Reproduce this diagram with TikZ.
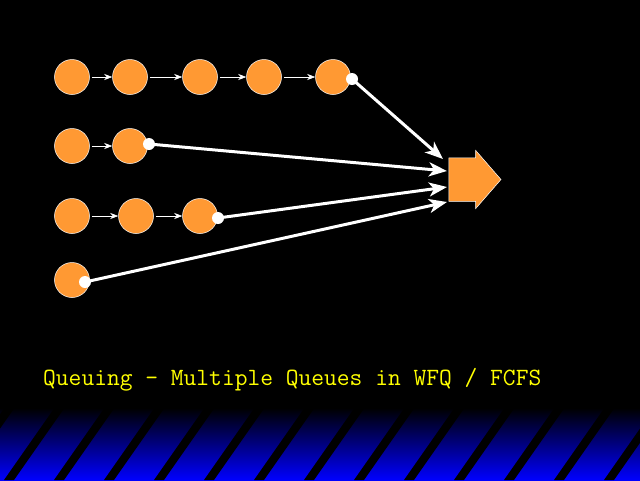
\documentclass[tikz,border=0pt]{standalone}
\usetikzlibrary{arrows.meta,shapes.arrows}
\definecolor{pktorange}{RGB}{255,153,51}
\definecolor{slideblue}{RGB}{0,0,255}
\definecolor{slideyellow}{RGB}{255,255,0}
\begin{document}
\begin{tikzpicture}
          [x=1pt,y=-1pt,
           pkt/.style={circle,fill=pktorange,draw=white,line width=.5pt,minimum size=35pt,inner sep=0pt},
           head/.style={circle,fill=white,minimum size=12pt,inner sep=0pt},
           hop/.style={draw=white,line width=.6pt,shorten <=2pt,-{Stealth[length=8pt,width=6pt,inset=2.5pt]}},
           feed/.style={draw=white,line width=3pt,-{Stealth[length=18pt,width=14pt,inset=5pt]}}]
          \useasboundingbox (0,0) rectangle (640,480);
          \fill[black] (0,0) rectangle (640,480);

          % striped band at the bottom
          \begin{scope}
            \clip (0,400) rectangle (640,480);
            \shade[top color=black,bottom color=slideblue] (0,408) rectangle (640,480);
            \foreach \k in {-1,...,13}
              \fill[black] (4+50*\k,480) -- (14+50*\k,480) -- (70+50*\k,400) -- (60+50*\k,400) -- cycle;
          \end{scope}

          % queues
          \node[pkt] (q11) at (72,77)  {};
          \node[pkt] (q12) at (130,77) {};
          \node[pkt] (q13) at (200,77) {};
          \node[pkt] (q14) at (264,77) {};
          \node[pkt] (q15) at (333,77) {};
          \node[pkt] (q21) at (72,146)  {};
          \node[pkt] (q22) at (130,146) {};
          \node[pkt] (q31) at (72,216)  {};
          \node[pkt] (q32) at (136,216) {};
          \node[pkt] (q33) at (200,216) {};
          \node[pkt] (q41) at (72,280)  {};

          \foreach \from/\to in {q11/q12,q12/q13,q13/q14,q14/q15,q21/q22,q31/q32,q32/q33}
            \draw[hop] (\from) -- (\to);

          % heads of the queues
          \node[head] (h1) at (352,79)  {};
          \node[head] (h2) at (149,144) {};
          \node[head] (h3) at (218,218) {};
          \node[head] (h4) at (85,282)  {};

          % output link
          \node[single arrow,fill=pktorange,draw=white,line width=.5pt,inner xsep=0pt,inner ysep=21.5pt,
                minimum height=52pt,single arrow head extend=7.5pt,
                single arrow tip angle=98] (mux) at (465.5,179.5) {};
          \coordinate (in1) at (443,159);
          \coordinate (in2) at (447,171);
          \coordinate (in3) at (447,187);
          \coordinate (in4) at (447,202);

          \foreach \from/\to in {h1/in1,h2/in2,h3/in3,h4/in4}
            \draw[feed] (\from.center) -- (\to);

          \node[anchor=base west,inner sep=0pt,text=slideyellow,font=\ttfamily\fontsize{24.8}{28}\selectfont]
            (title) at (43,385) {Queuing - Multiple Queues in WFQ / FCFS};

        \end{tikzpicture}
\end{document}
